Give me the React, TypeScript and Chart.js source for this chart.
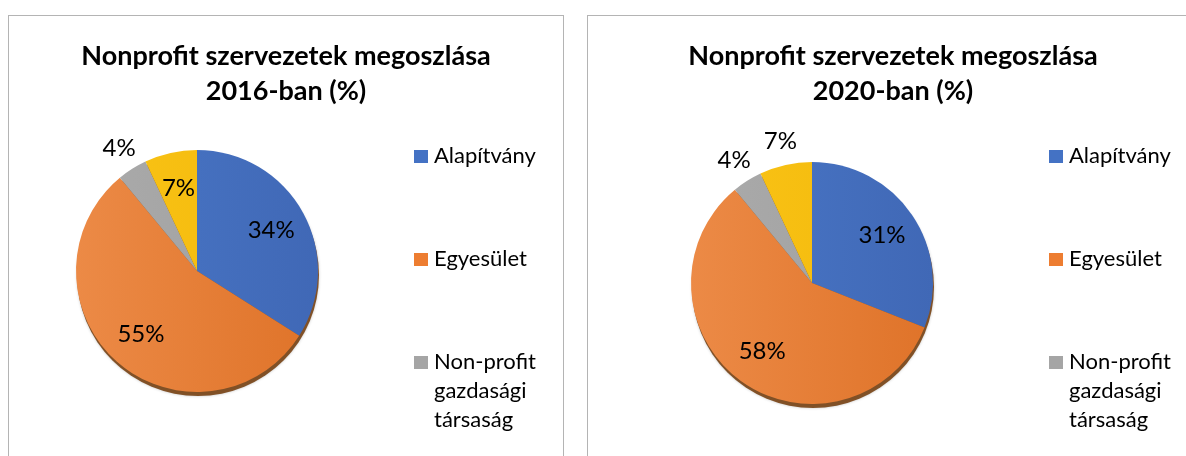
import React, { useEffect, useRef } from 'react';
import { Chart, registerables } from 'chart.js';

Chart.register(...registerables);

// ---------- data ----------
const categories = ['Alapítvány', 'Egyesület', 'Non-profit gazdasági társaság', 'Egyéb'];
const legendLines = [['Alapítvány'], ['Egyesület'], ['Non-profit', 'gazdasági', 'társaság'], ['Egyéb']];
const values2016 = [34, 55, 4, 7];
const values2020 = [31, 58, 4, 7];
const title2016 = ['Nonprofit szervezetek megoszlása', '2016-ban (%)'];
const title2020 = ['Nonprofit szervezetek megoszlása', '2020-ban (%)'];
const outside2016 = [false, false, true, false];
const outside2020 = [false, false, true, true];

// ---------- styles ----------
const FONT = 'Lato, "Open Sans", sans-serif';
const baseColors = ['#4472C4', '#ED7D31', '#A5A5A5', '#F8BF0E'];
const gradStops = [
  ['#4A78C8', '#4068B6'],
  ['#EC8A46', '#DF7329'],
  ['#ABABAB', '#9E9E9E'],
  ['#FAC417', '#F2B80A'],
];

const decoPlugin = {
  id: 'deco',
  beforeDatasetsDraw(chart: any) {
    const arc = chart.getDatasetMeta(0).data[0];
    if (!arc) return;
    const { x, y, outerRadius } = arc.getProps(['x', 'y', 'outerRadius'], true);
    const ctx = chart.ctx;
    ctx.save();
    ctx.beginPath();
    ctx.arc(x + 1, y + 4, outerRadius, 0, Math.PI * 2);
    ctx.fillStyle = 'rgba(120,66,20,0.9)';
    ctx.shadowColor = 'rgba(0,0,0,0.25)';
    ctx.shadowBlur = 3;
    ctx.fill();
    ctx.restore();
  },
  afterDatasetsDraw(chart: any, _args: any, opts: any) {
    const ctx = chart.ctx;
    const meta = chart.getDatasetMeta(0);
    const data = chart.data.datasets[0].data as number[];
    ctx.save();
    ctx.font = `24px ${FONT}`;
    ctx.fillStyle = '#000';
    ctx.textAlign = 'center';
    ctx.textBaseline = 'middle';
    meta.data.forEach((el: any, i: number) => {
      const { x, y, startAngle, endAngle, outerRadius } = el.getProps(
        ['x', 'y', 'startAngle', 'endAngle', 'outerRadius'],
        true
      );
      const mid = (startAngle + endAngle) / 2;
      const r = opts.outside[i] ? outerRadius * 1.2 : outerRadius * 0.7;
      ctx.fillText(`${data[i]}%`, x + Math.cos(mid) * r, y + Math.sin(mid) * r);
    });
    ctx.restore();
  },
  afterDraw(chart: any, _args: any, opts: any) {
    const ctx = chart.ctx;
    ctx.save();
    // title
    ctx.font = `bold 27px ${FONT}`;
    ctx.fillStyle = '#000';
    ctx.textAlign = 'center';
    ctx.textBaseline = 'alphabetic';
    opts.title.forEach((line: string, i: number) => {
      ctx.fillText(line, opts.titleX, 49 + i * 35);
    });
    // legend
    ctx.font = `22px ${FONT}`;
    ctx.textAlign = 'left';
    let base = 147;
    opts.legend.forEach((lines: string[], i: number) => {
      const boxTop = base - 13;
      if (boxTop + 13 <= chart.height) {
        ctx.fillStyle = baseColors[i];
        ctx.fillRect(opts.legendX, boxTop, 14, 13);
        ctx.fillStyle = '#000';
        lines.forEach((t: string, j: number) => {
          ctx.fillText(t, opts.legendX + 20, base + j * 29);
        });
      }
      base += 103;
    });
    ctx.restore();
  },
};

function PiePanel(props: {
  left: number;
  width: number;
  values: number[];
  title: string[];
  outside: boolean[];
  padding: { left: number; right: number; top: number; bottom: number };
  titleX: number;
  legendX: number;
}) {
  const ref = useRef<HTMLCanvasElement | null>(null);
  const contentW = props.width - 2;
  const contentH = 440;
  useEffect(() => {
    if (!ref.current) return;
    const chart = new Chart(ref.current, {
      type: 'pie',
      data: {
        labels: categories,
        datasets: [
          {
            data: props.values,
            borderWidth: 0,
            backgroundColor: (c: any) => {
              const area = c.chart.chartArea;
              const i = c.dataIndex ?? 0;
              if (!area) return baseColors[i];
              const g = c.chart.ctx.createLinearGradient(area.left, 0, area.right, 0);
              g.addColorStop(0, gradStops[i][0]);
              g.addColorStop(1, gradStops[i][1]);
              return g;
            },
          },
        ],
      },
      options: {
        responsive: false,
        animation: false,
        layout: { padding: props.padding },
        plugins: {
          legend: { display: false },
          title: { display: false },
          tooltip: { enabled: false },
          deco: {
            title: props.title,
            titleX: props.titleX,
            legend: legendLines,
            legendX: props.legendX,
            outside: props.outside,
          },
        } as any,
      },
      plugins: [decoPlugin],
    });
    return () => chart.destroy();
  }, []);
  return (
    <div
      style={{
        position: 'absolute',
        left: props.left,
        top: 15,
        width: props.width,
        height: 470,
        border: '1px solid #b4b4b4',
        boxSizing: 'border-box',
        background: '#fff',
      }}
    >
      <canvas ref={ref} width={contentW} height={contentH} style={{ display: 'block' }} />
    </div>
  );
}

export default function App() {
  return (
    <div
      style={{
        position: 'fixed',
        left: 0,
        top: 0,
        width: 1186,
        height: 456,
        overflow: 'hidden',
        background: '#fff',
      }}
    >
      <PiePanel
        left={8}
        width={556}
        values={values2016}
        title={title2016}
        outside={outside2016}
        padding={{ left: 67, right: 245, top: 134, bottom: 64 }}
        titleX={277}
        legendX={405}
      />
      <PiePanel
        left={587}
        width={612}
        values={values2020}
        title={title2020}
        outside={outside2020}
        padding={{ left: 103, right: 265, top: 146, bottom: 52 }}
        titleX={305}
        legendX={461}
      />
    </div>
  );
}
